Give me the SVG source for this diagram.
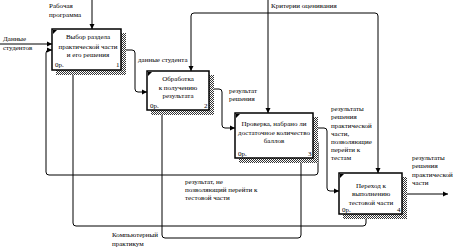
<svg xmlns="http://www.w3.org/2000/svg" width="454" height="249" viewBox="0 0 454 249">
<style>
text{font-family:"Liberation Serif","DejaVu Serif",serif;font-size:7px;fill:#000}
.c{text-anchor:middle}
.box{fill:#fff;stroke:#000;stroke-width:1.5}
.sh{fill:url(#hatch)}
.ln{fill:none;stroke:#000;stroke-width:1}
</style>
<defs>
<pattern id="hatch" width="2" height="2" patternUnits="userSpaceOnUse">
<rect width="2" height="2" fill="#fff"/>
<rect x="0" y="0" width="1" height="1" fill="#333"/>
<rect x="1" y="1" width="1" height="1" fill="#333"/>
</pattern>
<marker id="ar" markerWidth="6" markerHeight="6" refX="5" refY="3" orient="auto" markerUnits="userSpaceOnUse">
<path d="M0,0.5 L5,3 L0,5.5 Z" fill="#000"/>
</marker>
</defs>
<rect width="454" height="249" fill="#fff"/>

<g id="connectors">
<path class="ln" d="M0,44 H52" marker-end="url(#ar)"/>
<path class="ln" d="M92,0 V29" marker-end="url(#ar)"/>
<path class="ln" d="M313,140 H315 q3,0 3,3 V172 q0,3 -3,3 H49 q-3,0 -3,-3 V53 q0,-3 3,-3 H52" marker-end="url(#ar)"/>
<path class="ln" d="M121,50 H132 q3,0 3,3 V89 q0,3 3,3 H147" marker-end="url(#ar)"/>
<path class="ln" d="M209,89 H219 q3,0 3,3 V125 q0,3 3,3 H235" marker-end="url(#ar)"/>
<path class="ln" d="M268,0 V113" marker-end="url(#ar)"/>
<path class="ln" d="M268,13 H194 q-3,0 -3,3 V71" marker-end="url(#ar)"/>
<path class="ln" d="M268,13 H375 q3,0 3,3 V173" marker-end="url(#ar)"/>
<path class="ln" d="M313,128 H324 q3,0 3,3 V188 q0,3 3,3 H339" marker-end="url(#ar)"/>
<path class="ln" d="M402,194 H448" marker-end="url(#ar)"/>
<path class="ln" d="M76,226 q-3,0 -3,-3 V70" marker-end="url(#ar)"/>
<path class="ln" d="M76,226 H363 q3,0 3,-3 V214" marker-end="url(#ar)"/>
<path class="ln" d="M165,238 q-3,0 -3,-3 V110" marker-end="url(#ar)"/>
<path class="ln" d="M165,238 H298 q3,0 3,-3 V158" marker-end="url(#ar)"/>
</g>

<g id="node1">
<rect class="sh" x="121" y="33" width="5" height="42"/>
<rect class="sh" x="56" y="70" width="70" height="5"/>
<rect class="box" x="52" y="29" width="69" height="41"/>
<path d="M53,34 L53,30 L57,30 Z" fill="#000"/>
<text class="c" x="88" y="39">Выбор раздела</text>
<text class="c" x="88" y="48.5">практической части</text>
<text class="c" x="88" y="56.5">и его решения</text>
<text x="55" y="67">0р.</text>
<text x="116" y="67">1</text>
</g>

<g id="node2">
<rect class="sh" x="209" y="75" width="5" height="40"/>
<rect class="sh" x="151" y="110" width="63" height="5"/>
<rect class="box" x="147" y="71" width="62" height="39"/>
<path d="M148,76 L148,72 L152,72 Z" fill="#000"/>
<text class="c" x="178" y="80.5">Обработка</text>
<text class="c" x="178" y="89.5">к получению</text>
<text class="c" x="178" y="97.5">результата</text>
<text x="150" y="107.5">0р.</text>
<text x="204" y="107.5">2</text>
</g>

<g id="node3">
<rect class="sh" x="313" y="117" width="5" height="46"/>
<rect class="sh" x="239" y="158" width="79" height="5"/>
<rect class="box" x="235" y="113" width="78" height="45"/>
<path d="M236,118 L236,114 L240,114 Z" fill="#000"/>
<text class="c" x="274" y="125.5">Проверка, набрано ли</text>
<text class="c" x="274" y="134.5">достаточное количество</text>
<text class="c" x="274" y="142.5">баллов</text>
<text x="238" y="156">0р.</text>
<text x="308" y="156">3</text>
</g>

<g id="node4">
<rect class="sh" x="402" y="177" width="5" height="42"/>
<rect class="sh" x="343" y="214" width="64" height="5"/>
<rect class="box" x="339" y="173" width="63" height="41"/>
<path d="M340,178 L340,174 L344,174 Z" fill="#000"/>
<text class="c" x="371" y="187.5">Переход к</text>
<text class="c" x="371" y="195.5">выполнению</text>
<text class="c" x="371" y="204.5">тестовой части</text>
<text x="342" y="211.5">0р.</text>
<text x="397" y="211.5">4</text>
</g>

<g id="labels">
<text x="49" y="7.5">Рабочая</text>
<text x="49" y="16.5">программа</text>
<text x="3" y="40.5">Данные</text>
<text x="3" y="49.5">студентов</text>
<text x="271" y="7.5">Критерии оценивания</text>
<text x="138" y="61.5">данные студента</text>
<text x="229" y="92.5">результат</text>
<text x="229" y="100.5">решения</text>
<text x="331" y="110.5">результаты</text>
<text x="331" y="119">решения</text>
<text x="331" y="127.5">практической</text>
<text x="331" y="135.5">части,</text>
<text x="331" y="143.5">позволяющие</text>
<text x="331" y="151.5">перейти к</text>
<text x="331" y="159.5">тестам</text>
<text x="412" y="159.5">результаты</text>
<text x="412" y="168">решения</text>
<text x="412" y="176.5">практической</text>
<text x="412" y="185">части</text>
<text x="185" y="183.5">результат, не</text>
<text x="185" y="191.5">позволяющий перейти к</text>
<text x="185" y="199.5">тестовой части</text>
<text x="112" y="236.5">Компьютерный</text>
<text x="112" y="246">практикум</text>
</g>
</svg>
